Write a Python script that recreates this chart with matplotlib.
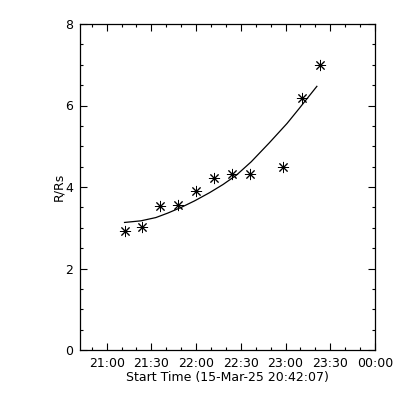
import datetime as dt
import matplotlib
matplotlib.use('Agg')
import matplotlib.pyplot as plt
import matplotlib.dates as mdates

# measured points (time of frame, height in solar radii)
obs_times = ['21:12', '21:24', '21:36', '21:48', '22:00', '22:12',
             '22:24', '22:36', '22:58', '23:11', '23:23']
obs_r = [2.92, 3.02, 3.53, 3.55, 3.89, 4.21, 4.31, 4.31, 4.48, 6.19, 6.99]

# fitted curve
fit_times = ['21:12', '21:23', '21:33', '21:41', '21:50', '21:59', '22:09',
             '22:18', '22:27', '22:37', '22:49', '23:01', '23:09', '23:21']
fit_r = [3.13, 3.17, 3.25, 3.36, 3.50, 3.66, 3.86,
         4.06, 4.29, 4.62, 5.08, 5.56, 5.92, 6.47]

day = dt.datetime(2025, 3, 15)
start = dt.datetime(2025, 3, 15, 20, 42, 7)
end = dt.datetime(2025, 3, 16, 0, 0, 0)

def to_dt(s):
    h, m = s.split(':')
    return day + dt.timedelta(hours=int(h), minutes=int(m))

t_obs = [to_dt(s) for s in obs_times]
t_fit = [to_dt(s) for s in fit_times]

plt.rcParams['font.family'] = 'DejaVu Sans'
fig = plt.figure(figsize=(4, 4), dpi=100)
ax = fig.add_axes([0.2, 0.125, 0.7375, 0.815])

ax.plot(t_obs, obs_r, linestyle='none', marker=(8, 2, 0), markersize=8,
        markeredgewidth=0.7, color='black')
ax.plot(t_fit, fit_r, color='black', linewidth=0.9)

ax.set_xlim(start, end)
ax.set_ylim(0, 8)
ax.set_yticks([0, 2, 4, 6, 8])
ax.yaxis.set_minor_locator(matplotlib.ticker.MultipleLocator(0.5))
ax.xaxis.set_major_locator(mdates.MinuteLocator(byminute=[0, 30]))
ax.xaxis.set_minor_locator(mdates.MinuteLocator(byminute=[0, 10, 20, 30, 40, 50]))
ax.xaxis.set_major_formatter(mdates.DateFormatter('%H:%M'))

ax.tick_params(which='both', direction='in', top=True, right=True,
               labelsize=9, width=0.8, pad=5)
ax.tick_params(which='major', length=5)
ax.tick_params(which='minor', length=2.5)
for s in ax.spines.values():
    s.set_linewidth(0.9)

ax.set_ylabel('R/Rs', fontsize=9, labelpad=0)
ax.set_xlabel('Start Time (15-Mar-25 20:42:07)', fontsize=9, labelpad=1)

fig.savefig('out.png', dpi=100)
